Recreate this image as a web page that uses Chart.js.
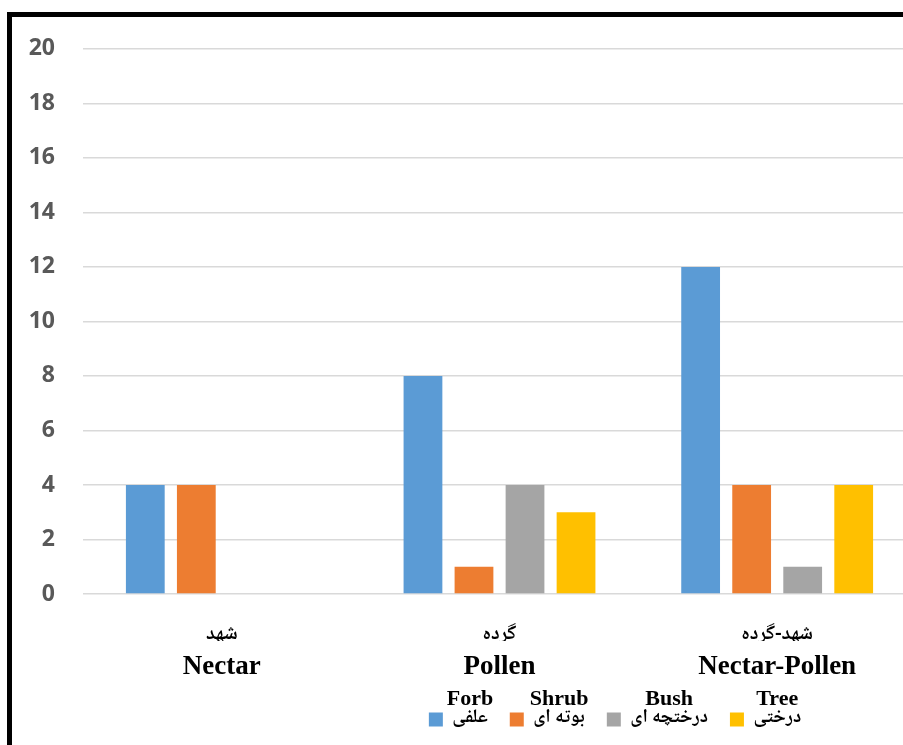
<!DOCTYPE html>
<html>
<head>
<meta charset="utf-8">
<script src="https://cdn.jsdelivr.net/npm/chart.js@4"></script>
<style>
  html, body { margin: 0; padding: 0; background: #fff; overflow: hidden; }
  #frame { position: absolute; left: 7px; top: 12px; width: 1000px; height: 1000px;
           border-left: 5px solid #000; border-top: 5px solid #000; }
  #wrap { position: absolute; left: 12px; top: 7px; width: 910px; height: 732px; }
</style>
</head>
<body>
<div id="frame"></div>
<div id="wrap"><canvas id="chart"></canvas></div>
<script>
const categoriesFa = ['شهد', 'گرده', 'شهد-گرده'];
const categoriesEn = ['Nectar', 'Pollen', 'Nectar-Pollen'];
const seriesFa = ['علفی', 'بوته ای', 'درختچه ای', 'درختی'];
const seriesEn = ['Forb', 'Shrub', 'Bush', 'Tree'];
const colors = ['#5B9BD5', '#ED7D31', '#A5A5A5', '#FFC000'];

const forb = [4, 8, 12];
const shrub = [4, 1, 4];
const bush = [0, 4, 1];
const tree = [0, 3, 4];

const yMin = 0;
const yMax = 20;
const yStep = 2;

const values = [forb, shrub, bush, tree];

const faFont = '"Noto Naskh Arabic", "Noto Sans Arabic", "DejaVu Sans"';

// english names over the persian legend entries, legend moved right like in the original
const legendTitles = {
    id: 'legendTitles',
    afterLayout(chart) {
        const lg = chart.legend;
        const shift = 603 - (lg.left + lg.right) / 2;
        lg.left += shift;
        lg.right += shift;
    },
    afterDraw(chart) {
        const lg = chart.legend;
        const ctx = chart.ctx;
        const bw = lg.options.labels.boxWidth;
        const fs = lg.options.labels.font.size;
        ctx.save();
        ctx.font = 'bold 22px "Liberation Serif"';
        ctx.fillStyle = '#000';
        ctx.textAlign = 'center';
        ctx.textBaseline = 'middle';
        lg.legendHitBoxes.forEach(function (hb, i) {
            const cx = hb.left + (hb.width + bw + fs / 2) / 2;
            ctx.fillText(seriesEn[i], cx, hb.top + hb.height / 2 - 20);
        });
        ctx.restore();
    }
};

const ctx = document.getElementById('chart').getContext('2d');
new Chart(ctx, {
    type: 'bar',
    data: {
        labels: categoriesFa,
        datasets: seriesFa.map(function (name, i) {
            return {
                label: name,
                data: values[i],
                backgroundColor: colors[i],
                barPercentage: 0.76,
                categoryPercentage: 0.735
            };
        })
    },
    options: {
        responsive: true,
        maintainAspectRatio: false,
        animation: false,
        layout: { padding: { top: 20, right: 6, bottom: 0, left: 0 } },
        plugins: {
            tooltip: { enabled: false },
            legend: {
                position: 'bottom',
                labels: {
                    boxWidth: 14,
                    boxHeight: 14,
                    padding: 22,
                    color: '#000',
                    font: { family: faFont, size: 19, weight: 'bold' }
                }
            }
        },
        scales: {
            y: {
                min: yMin,
                max: yMax,
                afterFit: function (s) { s.width = 71; },
                ticks: {
                    stepSize: yStep,
                    padding: 28,
                    color: '#595959',
                    font: { family: '"Open Sans"', size: 23, weight: 'bold' }
                },
                grid: { color: '#D9D9D9', lineWidth: 1.5, drawTicks: false },
                border: { display: false }
            },
            x: {
                position: 'bottom',
                weight: 0,
                afterFit: function (s) { s.height = 47; },
                ticks: {
                    padding: 22,
                    color: '#000',
                    font: { family: faFont, size: 20, weight: 'bold' }
                },
                grid: { display: false },
                border: { display: false }
            },
            xEn: {
                type: 'category',
                labels: categoriesEn,
                position: 'bottom',
                weight: 1,
                afterFit: function (s) { s.height = 47; },
                ticks: {
                    padding: 2,
                    color: '#000',
                    font: { family: '"Liberation Serif"', size: 27, weight: 'bold' }
                },
                grid: { display: false },
                border: { display: false }
            }
        }
    },
    plugins: [legendTitles]
});
</script>
</body>
</html>
